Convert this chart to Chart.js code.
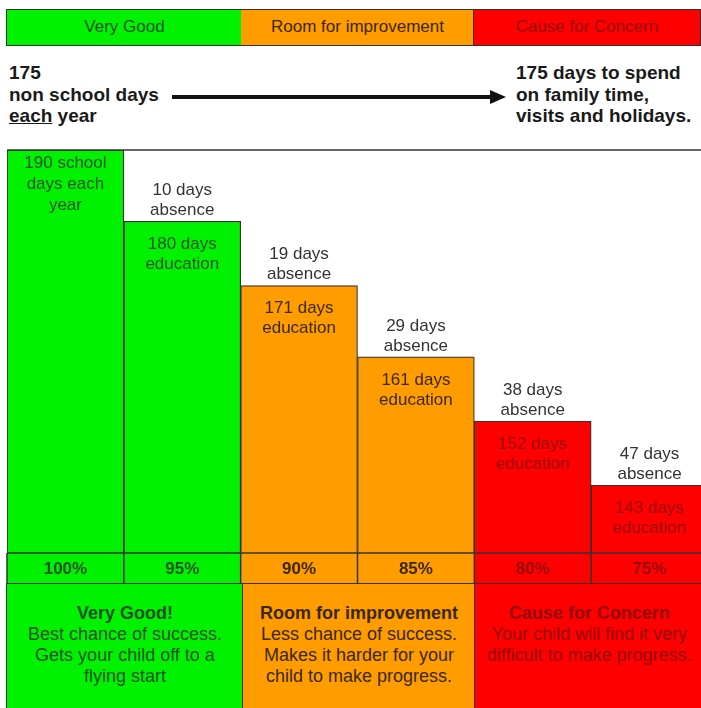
<!DOCTYPE html>
<html>
<head>
<meta charset="utf-8">
<title>School attendance</title>
<script src="https://cdn.jsdelivr.net/npm/chart.js@4.4.1/dist/chart.umd.min.js"></script>
<style>
  html, body { margin: 0; padding: 0; background: #fff; overflow: hidden; }
  body { width: 701px; height: 708px; position: relative; font-family: "Liberation Sans", Arial, sans-serif; }
  .abs { position: absolute; box-sizing: border-box; }
  .band { top: 9px; height: 37px; border: 1.5px solid #333; font-size: 17px; line-height: 34px; text-align: center; }
  .note { top: 62px; font-size: 19px; font-weight: bold; line-height: 21.5px; color: #1a1a1a; }
  .panel { top: 583px; height: 130px; border-left: 1.5px solid #333; border-top: 1.5px solid #333; font-size: 18px; line-height: 21px; text-align: center; padding-top: 19px; }
  .panel b { display: block; }
  #chartBox { left: 0; top: 140px; }
</style>
</head>
<body>
<div class="abs band" style="left:6px; width:237px; background:#00f200; color:#1c521c;">Very Good</div>
<div class="abs band" style="left:241px; width:234px; background:#ff9c00; color:#3a2806; border-left:none;">Room for improvement</div>
<div class="abs band" style="left:473px; width:228px; background:#ff0000; color:#940000; border-left:1.5px solid #333;">Cause for Concern</div>

<div class="abs note" style="left:9px;">175<br>non school days<br><u>each</u> year</div>
<svg class="abs" style="left:0; top:85px;" width="701" height="24">
  <line x1="172" y1="12" x2="494" y2="12" stroke="#111" stroke-width="4"/>
  <polygon points="490,5 506,12 490,19" fill="#111"/>
</svg>
<div class="abs note" style="left:516px;">175 days to spend<br>on family time,<br>visits and holidays.</div>

<div id="chartBox" class="abs"><canvas id="chart" width="712" height="445"></canvas></div>

<div class="abs panel" style="left:6px; width:237px; background:#00f200; color:#1c521c;"><b>Very Good!</b>Best chance of success.<br>Gets your child off to a<br>flying start</div>
<div class="abs panel" style="left:242px; width:233px; background:#ff9c00; color:#3a2806;"><b>Room for improvement</b>Less chance of success.<br>Makes it harder for your<br>child to make progress.</div>
<div class="abs panel" style="left:474px; width:230px; background:#ff0000; color:#940000;"><b>Cause for Concern</b>Your child will find it very<br>difficult to make progress.</div>

<script>
// attendance levels, one column each
const categories = ['100%', '95%', '90%', '85%', '80%', '75%'];
const educationDays = [190, 180, 171, 161, 152, 143];
const absenceDays = [0, 10, 19, 29, 38, 47];

const barColors = ['#00f200', '#00f200', '#ff9c00', '#ff9c00', '#ff0000', '#ff0000'];
const inkColors = ['#1c521c', '#1c521c', '#3a2806', '#3a2806', '#940000', '#940000'];
const lineColor = '#333';
const FONT = '"Liberation Sans", Arial, sans-serif';
const ROW_H = 30;

Chart.defaults.font.family = FONT;

// percentage row under the bars (tick labels come from the x axis)
const percentRow = {
    id: 'percentRow',
    beforeDraw(chart) {
        const { ctx, chartArea } = chart;
        const x = chart.scales.x;
        const w = (chartArea.right - chartArea.left) / categories.length;
        ctx.save();
        categories.forEach((c, i) => {
            const cx = x.getPixelForValue(i);
            ctx.fillStyle = barColors[i];
            ctx.fillRect(cx - w / 2, chartArea.bottom, w, ROW_H);
        });
        ctx.restore();
    },
    afterDraw(chart) {
        const { ctx, chartArea } = chart;
        const x = chart.scales.x;
        const w = (chartArea.right - chartArea.left) / categories.length;
        const b = chartArea.bottom;
        ctx.save();
        ctx.strokeStyle = lineColor;
        ctx.lineWidth = 1.5;
        ctx.beginPath();
        ctx.moveTo(chartArea.left, chartArea.top);
        ctx.lineTo(chart.width, chartArea.top);
        ctx.moveTo(chartArea.left, b);
        ctx.lineTo(chart.width, b);
        categories.forEach((c, i) => {
            const left = x.getPixelForValue(i) - w / 2;
            ctx.moveTo(left, b);
            ctx.lineTo(left, b + ROW_H);
        });
        ctx.stroke();
        ctx.restore();
    }
};

// absence / education text on each step
const barLabels = {
    id: 'barLabels',
    afterDatasetsDraw(chart) {
        const ctx = chart.ctx;
        const bars = chart.getDatasetMeta(0).data;
        ctx.save();
        ctx.font = '17px ' + FONT;
        ctx.textAlign = 'center';
        ctx.textBaseline = 'middle';
        bars.forEach((bar, i) => {
            const top = bar.y;
            ctx.fillStyle = inkColors[i];
            if (i === 0) {
                [educationDays[i] + ' school', 'days each', 'year']
                    .forEach((t, k) => ctx.fillText(t, bar.x, top + 13 + k * 21));
                return;
            }
            ctx.fillText(educationDays[i] + ' days', bar.x, top + 23);
            ctx.fillText('education', bar.x, top + 43);
            ctx.fillStyle = '#333';
            ctx.fillText(absenceDays[i] + ' days', bar.x, top - 31);
            ctx.fillText('absence', bar.x, top - 11);
        });
        ctx.restore();
    }
};

new Chart(document.getElementById('chart').getContext('2d'), {
    type: 'bar',
    data: {
        labels: categories,
        datasets: [{
            data: educationDays,
            backgroundColor: barColors,
            borderColor: lineColor,
            borderWidth: 1.2,
            borderSkipped: 'bottom',
            barPercentage: 1,
            categoryPercentage: 1
        }]
    },
    options: {
        responsive: false,
        animation: false,
        layout: { padding: { top: 10, left: 7, right: 4, bottom: 2 } },
        plugins: {
            legend: { display: false },
            tooltip: { enabled: false }
        },
        scales: {
            x: {
                grid: { display: false, drawTicks: false },
                border: { display: false },
                ticks: {
                    padding: 6,
                    font: { size: 17, weight: 'bold' },
                    color: c => inkColors[c.index]
                },
                afterFit: s => { s.height = ROW_H; }
            },
            y: { display: false, min: 133.5, max: 190 }
        }
    },
    plugins: [percentRow, barLabels]
});
</script>
</body>
</html>
